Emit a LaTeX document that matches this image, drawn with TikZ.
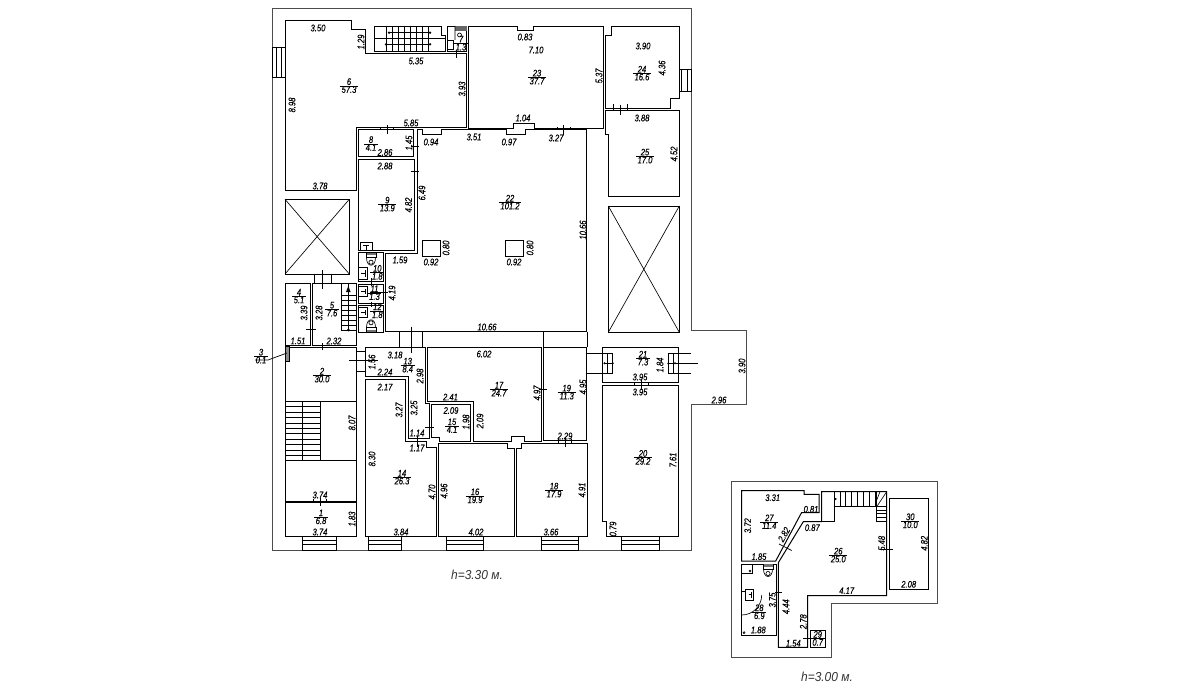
\documentclass[tikz,border=0pt]{standalone}
\usepackage{fontspec}
\setmainfont{Liberation Sans}[FakeStretch=0.8, FakeBold=0.25]
\newfontfamily\floorfont{Liberation Sans}[FakeStretch=0.92]
\tikzset{
  outerwall/.style={draw=black!70, line width=0.9pt},
  roomwall/.style={draw=black, line width=1pt},
  fitting/.style={draw=black, line width=0.65pt},
  dimmark/.style={draw=black, line width=0.7pt},
  dimtext/.style={font=\fontsize{9.5}{10}\selectfont\itshape, inner sep=0pt},
  dimside/.style={dimtext, rotate=90},
  floortext/.style={font=\floorfont\fontsize{13}{14}\selectfont\itshape, text=black!80, inner sep=0pt}
}
% number of the room, area under it, a line between them
\newcommand{\roomtag}[4]{
  \node[dimtext, above, yshift=0.3pt] (no#3) at (#1,#2) {#3};
  \node[dimtext, below, yshift=-0.5pt] (ar#3) at (#1,#2) {#4};
  \draw[dimmark] ([xshift=-1.5pt]ar#3.north west) -- ([xshift=1.5pt]ar#3.north east);
}
\newcommand{\wcbowl}[3]{
  \fill[black!55] (#1-5,#2) rectangle (#1+5,#2+#3*2.5);
  \draw[fitting] (#1-5,#2) -- (#1-5,#2+#3*5) -- (#1+5,#2+#3*5) -- (#1+5,#2);
  \draw[fitting] (#1-4.5,#2+#3*5) .. controls (#1-4.5,#2+#3*15) and (#1+4.5,#2+#3*15) .. (#1+4.5,#2+#3*5);
  \draw[fitting] (#1,#2+#3*9.5) circle (2.1);
}
\newcommand{\basinbox}[4]{
  \draw[fitting] (#1,#2) rectangle (#3,#4);
  \draw[fitting] (#1+3,{(#2+#4)/2}) -- (#3-2,{(#2+#4)/2});
  \draw[fitting] (#3-2,#2+2.5) -- (#3-2,#4-2.5);
}
\begin{document}
\begin{tikzpicture}[x=1pt,y=-1pt]
  \useasboundingbox (0,0) rectangle (1183,698);
  \fill[white] (0,0) rectangle (1183,698);

  % outer contours
  \draw[outerwall] (272,8) -- (691,8) -- (691,330.5) -- (746.5,330.5) -- (746.5,404) -- (691,404) -- (691,550) -- (272,550) -- cycle;
  \draw[outerwall] (731,481.7) -- (937.7,481.7) -- (937.7,603.3) -- (831.7,603.3) -- (831.7,657) -- (731,657) -- cycle;

  % rooms of the main floor
  \draw[roomwall] (285,20.7) -- (351,20.7) -- (351,30) -- (365,30) -- (365,53.5) -- (466.7,53.5) -- (466.7,127.5) -- (356.7,127.5) -- (356.7,190.3) -- (285,190.3) -- cycle;
  \draw[roomwall] (468.5,26.7) -- (517.3,26.7) -- (517.3,30.7) -- (533.3,30.7) -- (533.3,26.7) -- (603.3,26.7) -- (603.3,128.3) -- (534,128.3) -- (534,123.3) -- (513.3,123.3) -- (513.3,128.3) -- (468.5,128.3) -- cycle;
  \draw[roomwall] (611.7,26.7) -- (679.3,26.7) -- (679.3,98.7) -- (670,98.7) -- (670,108.3) -- (605.7,108.3) -- (605.7,36) -- (611.7,36) -- cycle;
  \draw[roomwall] (605.7,111) -- (679,111) -- (679,196.7) -- (608.3,196.7) -- (608.3,134.3) -- (605.7,134.3) -- cycle;
  \draw[roomwall] (358.7,130) rectangle (413,156.7);
  \draw[roomwall] (358.7,159.3) rectangle (414.5,250.7);
  \draw[roomwall] (417,130) -- (422.3,130) -- (422.3,135) -- (441,135) -- (441,130) -- (506.7,130) -- (506.7,135) -- (525.7,135) -- (525.7,130) -- (586.7,130) -- (586.7,331.7) -- (385.7,331.7) -- (385.7,253) -- (417,253) -- cycle;
  \draw[roomwall] (358.3,252.7) rectangle (383,281.7);
  \draw[roomwall] (358.3,284.3) rectangle (383,303.3);
  \draw[roomwall] (358.3,305) rectangle (383,332.3);
  \draw[roomwall] (285,283.3) rectangle (310.7,345);
  \draw[roomwall] (312.7,283.3) rectangle (356.7,345);
  \draw[roomwall] (285,347.3) rectangle (356.7,501);
  \draw[roomwall] (285,502.3) rectangle (356.7,536.7);
  \draw[roomwall] (365,347.3) -- (425.3,347.3) -- (425.3,403) -- (429.5,403) -- (429.5,438) -- (408.3,438) -- (408.3,376) -- (365,376) -- cycle;
  \draw[roomwall] (365.7,379.3) -- (405,379.3) -- (405,441) -- (426.7,441) -- (426.7,447.7) -- (436,447.7) -- (436,536.7) -- (365.7,536.7) -- cycle;
  \draw[roomwall] (431.7,404) -- (470.7,404) -- (470.7,441) -- (439,441) -- (439,437.3) -- (431.7,437.3) -- cycle;
  \draw[roomwall] (427.3,347.3) -- (541,347.3) -- (541,441) -- (524.3,441) -- (524.3,436.7) -- (511.7,436.7) -- (511.7,441) -- (473.7,441) -- (473.7,401) -- (427.3,401) -- cycle;
  \draw[roomwall] (438.3,443.3) -- (507.3,443.3) -- (507.3,448.3) -- (514,448.3) -- (514,536.7) -- (438.3,536.7) -- cycle;
  \draw[roomwall] (516.7,448.3) -- (521.7,448.3) -- (521.7,443.3) -- (587,443.3) -- (587,536.7) -- (516.7,536.7) -- cycle;
  \draw[roomwall] (543.7,347.3) rectangle (586.7,440.7);
  \draw[roomwall] (587,331.7) -- (587,347.3);
  \draw[roomwall] (543.7,331.7) -- (543.7,347.3);
  \draw[roomwall] (385.7,347.3) -- (425,347.3);
  \draw[roomwall] (602.7,347.3) rectangle (678,382.3);
  \draw[roomwall] (602.7,385) -- (678,385) -- (678,536.7) -- (606.7,536.7) -- (606.7,521) -- (602.7,521) -- cycle;

  % shafts
  \draw[fitting] (285,199.3) rectangle (349.3,274);
  \draw[fitting] (285,199.3) -- (349.3,274) (349.3,199.3) -- (285,274);
  \draw[fitting] (608.3,206) rectangle (679.3,332.3);
  \draw[fitting] (608.3,206) -- (679.3,332.3) (679.3,206) -- (608.3,332.3);
  \draw[fitting] (422,240) rectangle (440,256);
  \draw[fitting] (505,240) rectangle (523,256);

  % windows
  \draw[fitting] (272,47) rectangle (285,77);
  \draw[fitting] (276,47) -- (276,77) (281,47) -- (281,77);
  \draw[fitting] (679.3,69.3) rectangle (691,91.7);
  \draw[fitting] (681.7,69.3) -- (681.7,91.7) (687.7,69.3) -- (687.7,91.7);
  \foreach \wa/\wb in {302.7/336.7, 368.3/401.7, 446.7/483.3, 541.7/578.3, 621.7/659.3} {
    \draw[fitting] (\wa,536.7) rectangle (\wb,550);
    \draw[fitting] (\wa,540.5) -- (\wb,540.5) (\wa,544.5) -- (\wb,544.5);
  }

  % doors
  \draw[fitting] (314.3,274) -- (314.3,283.3) (331.7,274) -- (331.7,283.3);
  \draw[fitting] (399.3,331.7) -- (399.3,347.3) (422.7,331.7) -- (422.7,347.3);
  \draw[fitting] (613.3,104) -- (613.3,111) (627.3,104) -- (627.3,111);
  \draw[fitting] (356.7,351) -- (365,351) (356.7,371.7) -- (365,371.7);
  \draw[fitting] (587,353.3) -- (612.7,353.3) -- (612.7,373.3) -- (587,373.3);
  \draw[fitting] (607.3,353.3) -- (607.3,373.3);
  \draw[fitting] (691,353.3) -- (668.3,353.3) -- (668.3,373.3) -- (691,373.3);
  \draw[fitting] (673,353.3) -- (673,373.3);

  % stairs
  \draw[fitting] (374.3,51.7) -- (374.3,26) -- (441,26) -- (441,35) -- (445,35) -- (445,51.7) -- cycle;
  \draw[fitting] (374.3,38.3) -- (445,38.3);
  \foreach \sx in {386.7,392.3,398.3,404.3,410.7,416.7,422.7,428.3}
    \draw[fitting] (\sx,26) -- (\sx,51.7);
  \draw[fitting] (389,32.7) -- (430,32.7) (386,44.3) -- (430,44.3);
  \fill (389,32.7) circle (1.3) (430,32.7) circle (1.3) (386,44.3) circle (1.3) (430,44.3) circle (1.3);
  \draw[fitting] (341.7,283.3) rectangle (356.7,330);
  \draw[fitting] (348.3,283.3) -- (348.3,330);
  \foreach \sy in {295,300,305,310,315,320,325}
    \draw[fitting] (341.7,\sy) -- (356.7,\sy);
  \fill (348.3,330) circle (1.5);
  \fill (348.3,286) -- (346,292) -- (350.6,292) -- cycle;
  \draw[fitting] (285,401) -- (356.7,401) (320.7,401) -- (320.7,460) (285,460) -- (356.7,460);
  \draw[fitting] (302.7,401) -- (302.7,460);
  \foreach \sy in {406.5,412,417.5,423,428,433.5,439,444.5,450,455}
    \draw[fitting] (285,\sy) -- (320.7,\sy);

  % sanitary fittings
  \draw[fitting] (447.5,26) rectangle (466.7,51.7);
  \fill[black!60] (455,26) rectangle (466.7,31);
  \draw[fitting] (455,26) -- (455,40) (459.5,35) circle (2);
  \draw[fitting] (447.5,40.7) rectangle (453.5,49);
  \draw[fitting] (360,242.7) rectangle (372.3,250.7);
  \draw[fitting] (363,245.5) -- (369,245.5) (366,245.5) -- (366,250.7);
  \wcbowl{371}{252.7}{1}
  \wcbowl{371}{332.3}{-1}
  \basinbox{358.3}{267.3}{367}{279.3}
  \basinbox{358.3}{286.7}{367}{296.7}
  \basinbox{358.3}{307.3}{367}{317.3}
  \draw[fitting, fill=black!45] (285,346) rectangle (289,361.7);

  % dimension strokes, main floor
  \draw[dimmark] (456.7,50) -- (456.7,58);
  \draw[dimmark] (387,125) -- (387,134) (380,127) -- (380,130) (393.3,127) -- (393.3,130);
  \draw[dimmark] (411,146.7) -- (419,146.7) (411,171.7) -- (419,171.7);
  \draw[dimmark] (563.7,125) -- (563.7,135) (557.3,127.5) -- (557.3,130) (570.7,127.5) -- (570.7,130);
  \draw[dimmark] (620,105) -- (620,115);
  \draw[dimmark] (322.7,270) -- (322.7,289.3);
  \draw[dimmark] (306,329.3) -- (316,329.3) (322.7,343) -- (322.7,350);
  \draw[dimmark] (371.7,278) -- (371.7,286) (370,292.5) -- (388.3,292.5) (371.7,301.7) -- (371.7,307);
  \draw[dimmark] (411,326.7) -- (411,353);
  \draw[dimmark] (349.3,360.7) -- (378,360.7);
  \draw[dimmark] (417,436) -- (417,447) (425,427.3) -- (434,427.3);
  \draw[dimmark] (539,389) -- (547.3,389);
  \draw[dimmark] (565,436.7) -- (565,447.3) (558,439) -- (558,443) (571.7,439) -- (571.7,443);
  \draw[dimmark] (320,498.3) -- (320,506) (313.3,499) -- (313.3,502) (326.7,499) -- (326.7,502);
  \draw[dimmark] (641,380) -- (641,390) (634,382) -- (634,385) (648,382) -- (648,385);
  \draw[dimmark] (604,363.3) -- (613,363.3) (668,363.3) -- (698.3,363.3);
  \fill (604.5,363.3) circle (1.1) (612.7,363.3) circle (1.1) (668.3,363.3) circle (1.1) (675,363.3) circle (1.1);
  \coordinate (leadA) at (287,353);
  \coordinate (leadB) at (268,360);
  \coordinate (leadC) at (255,360);
  \draw[dimmark] (leadA) -- (leadB) -- (leadC);

  % upper floor
  \draw[roomwall] (741.7,490.7) -- (804,490.7) -- (804,494.3) -- (819,494.3) -- (819,512.7) -- (801.5,512.7) -- (775.7,561) -- (741.7,561) -- cycle;
  \draw[roomwall] (821.7,491.7) -- (886.7,491.7) -- (886.7,595.7) -- (807.7,595.7) -- (807.7,647.3) -- (778.3,647.3) -- (778.3,562.7) -- (803.3,521.7) -- (821.7,521.7) -- cycle;
  \draw[roomwall] (741.7,564) rectangle (776.7,635);
  \draw[roomwall] (810.7,630.7) rectangle (825,647.3);
  \draw[roomwall] (889.3,498.3) rectangle (928.3,589);
  \draw[fitting] (834.3,491.7) -- (834.3,521.7) -- (821.7,521.7);
  \draw[fitting] (834.3,506.7) -- (876.7,506.7) (876.7,491.7) -- (876.7,521.7) -- (886.7,521.7);
  \foreach \sx in {840,845.7,851.7,857.7,863.3,869,875}
    \draw[fitting] (\sx,491.7) -- (\sx,506.7);
  \foreach \sy in {506.7,510,513.5,517}
    \draw[fitting] (876.7,\sy) -- (886.7,\sy);
  \draw[fitting] (876.7,506.7) -- (886.7,491.7) (876.7,500) -- (880,491.7);
  \fill (837,499) -- (834.5,497.5) -- (834.5,500.5) -- cycle;
  \draw[fitting] (741.7,564) rectangle (752.3,573.3);
  \draw[fitting] (750,571) circle (1);
  \wcbowl{768}{564}{1}
  \basinbox{745.7}{589.3}{753.3}{600}
  \draw[fitting] (741.7,591.7) -- (745.7,591.7);
  \draw[fitting] (741.7,615) arc[start angle=90, end angle=0, radius=20];
  \draw[fitting] (744,632.7) circle (1);
  \draw[dimmark] (779,544) -- (791.7,550.5);
  \draw[dimmark] (881,549) -- (892.5,549) (775,592.3) -- (782.3,592.3) (803.3,638.3) -- (825,638.3);

  % dimensions along the lines
  \foreach \px/\py/\txt [count=\i] in {318/28/3.50, 416/61/5.35, 320/186/3.78, 411/123/5.85, 385/152.5/2.86, 431/142/0.94, 474/137/3.51, 385/166/2.88,
    525/37/0.83, 536/50/7.10, 523/118/1.04, 509/142/0.97, 556/138/3.27, 643/46/3.90, 642/118/3.88, 487/327/10.66, 431/262/0.92, 514/262/0.92,
    400/260/1.59, 298/341/1.51, 334/341/2.32, 395/355/3.18, 385/372/2.24, 484/354/6.02, 450.5/397/2.41, 451/410.5/2.09, 385/387/2.17,
    417/433/1.14, 417/448/1.17, 476/532/4.02, 551/532/3.66, 565/436/2.29, 401/532/3.84, 320/495/3.74, 320/532/3.74, 640/377/3.95, 640/392/3.95,
    719/400/2.96, 772.7/497.7/3.31, 811/509.3/0.81, 759/556.7/1.85, 812.3/527.7/0.87, 908.7/584.3/2.08, 846.7/590.7/4.17, 758.3/630/1.88, 793.3/643.3/1.54}
    \node[dimtext] (dh\i) at (\px,\py) {\txt};
  \foreach \px/\py/\txt [count=\i] in {361/42/1.29, 462/89/3.93, 292/105/8.98, 409/143/1.45, 422/193/6.49, 408.5/205/4.82, 599/76/5.37, 662/68/4.36,
    674/154/4.52, 583/230/10.66, 446/248/0.80, 530/248/0.80, 304/313/3.39, 319/313/3.28, 392/293/4.19, 372/362/1.56, 420/376/2.98, 537/393/4.97,
    583/387/4.95, 466/422/1.98, 480/421/2.09, 414/408/3.25, 399/410/3.27, 372/459/8.30, 432/492/4.70, 444/491/4.96, 582/490/4.91, 352/519/1.83,
    352/423/8.07, 660/365/1.84, 742/366/3.90, 673/460/7.61, 613/529/0.79, 747.7/525.7/3.72, 881.7/543.3/5.48, 924.3/543.3/4.82, 772.3/600/3.75,
    786/606.7/4.44, 803.3/621.7/2.78}
    \node[dimside] (dv\i) at (\px,\py) {\txt};
  \node[dimtext, rotate=60] (dd1) at (784,534.5) {2.82};

  % rooms: number over area
  \roomtag{349}{85.5}{6}{57.3}
  \roomtag{461}{43}{7}{1.3}
  \roomtag{371}{143.5}{8}{4.1}
  \roomtag{537}{77}{23}{37.7}
  \roomtag{642}{73}{24}{16.6}
  \roomtag{645}{156}{25}{17.0}
  \roomtag{510}{202}{22}{101.2}
  \roomtag{387.3}{204}{9}{13.9}
  \roomtag{299}{296}{4}{5.1}
  \roomtag{332}{309}{5}{7.6}
  \roomtag{377.3}{272.3}{10}{1.8}
  \roomtag{374.5}{292.5}{11}{1.3}
  \roomtag{377.3}{310.7}{12}{1.8}
  \roomtag{407.7}{365}{13}{8.4}
  \roomtag{261}{356}{3}{0.1}
  \roomtag{322}{375}{2}{30.0}
  \roomtag{402}{477}{14}{26.3}
  \roomtag{321}{516.7}{1}{6.8}
  \roomtag{452}{425.7}{15}{4.1}
  \roomtag{499}{389}{17}{24.7}
  \roomtag{566.7}{392}{19}{11.3}
  \roomtag{475}{495.7}{16}{19.9}
  \roomtag{554}{490}{18}{17.9}
  \roomtag{643}{358}{21}{7.3}
  \roomtag{643}{457.3}{20}{29.2}
  \roomtag{769.3}{521.7}{27}{11.4}
  \roomtag{838.3}{555}{26}{25.0}
  \roomtag{910.3}{520.7}{30}{10.0}
  \roomtag{759.3}{611.7}{28}{6.9}
  \roomtag{817.7}{638.3}{29}{0.7}

  \node[floortext] (floorA) at (477,575) {h=3.30 м.};
  \node[floortext] (floorB) at (827,676.5) {h=3.00 м.};
\end{tikzpicture}
\end{document}
